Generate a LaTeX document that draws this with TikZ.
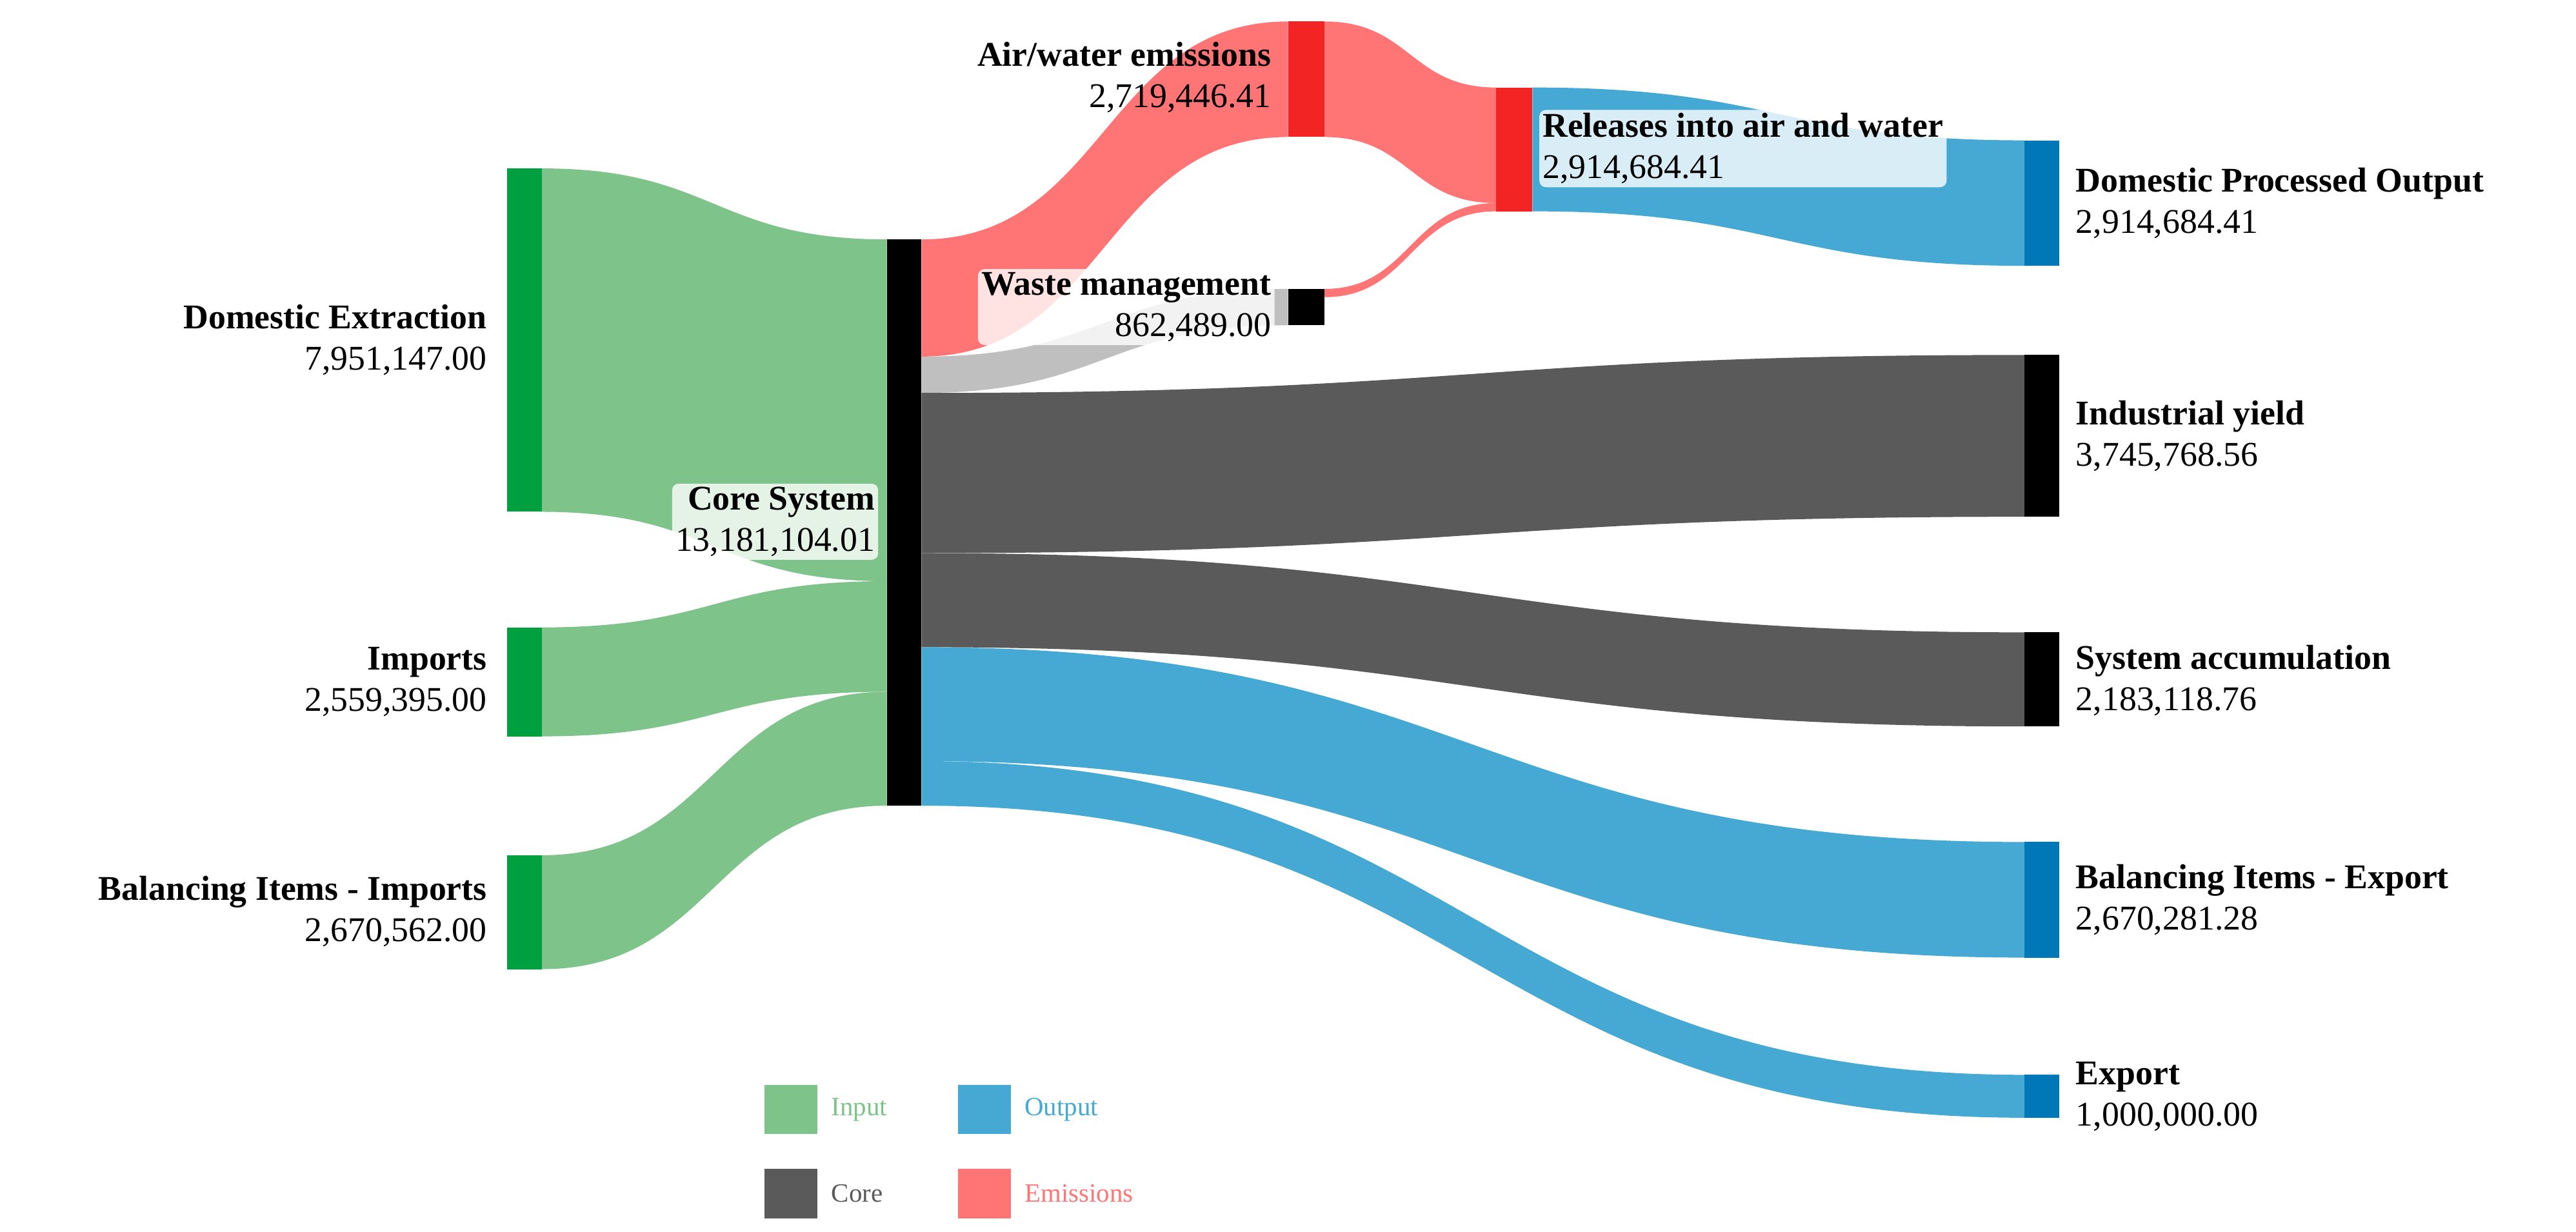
\documentclass[tikz,border=0pt]{standalone}
\usepackage{fontspec}
\setmainfont{Liberation Serif}
\begin{document}
\newcommand\sband[7]{%
 \pgfmathsetmacro\xm{(#2+#5)/2}%
 \fill[#1] (#2,#3) .. controls (\xm,#3) and (\xm,#6) .. (#5,#6) -- (#5,#7) .. controls (\xm,#7) and (\xm,#4) .. (#2,#4) -- cycle;}
\begin{tikzpicture}[x=1pt,y=-1pt,
 lab/.style={font=\fontsize{21}{25}\selectfont, align=right, inner sep=2pt},
 labl/.style={font=\fontsize{21}{25}\selectfont, align=left, inner sep=2pt},
 box/.style={fill=white, fill opacity=0.8, text opacity=1, rounded corners=4pt},
 leg/.style={font=\fontsize{16}{19}\selectfont, anchor=west}]
\definecolor{lin}{HTML}{7DC38A}\definecolor{bin}{HTML}{00A040}
\definecolor{lout}{HTML}{45A9D3}\definecolor{bout}{HTML}{0077B6}
\definecolor{lcore}{HTML}{5A5A5A}\definecolor{lem}{HTML}{FF7474}\definecolor{bem}{HTML}{F22424}
\useasboundingbox (0,0) rectangle (1560,746);
% links
\sband{lin}{328}{102}{310}{537}{145}{352}
\sband{lin}{328}{380}{446}{537}{352}{419}
\sband{lin}{328}{518}{587}{537}{419}{488}
\sband{lem}{558}{145}{216}{780}{13}{83}
\sband{black!25}{558}{216}{238}{780}{175}{197}
\sband{lcore}{558}{238}{335}{1226}{215}{313}
\sband{lcore}{558}{335}{392}{1226}{383}{440}
\sband{lout}{558}{392}{461}{1226}{510}{580}
\sband{lout}{558}{461}{488}{1226}{651}{677}
\sband{lem}{802}{13}{83}{906}{53}{123}
\sband{lem}{802}{175}{180}{906}{123}{128}
\sband{lout}{928}{53}{128}{1226}{85}{161}
% bars
\fill[bin] (307,102) rectangle (328,310);
\fill[bin] (307,380) rectangle (328,446);
\fill[bin] (307,518) rectangle (328,587);
\fill[black] (537,145) rectangle (558,488);
\fill[bem] (780,13) rectangle (802,83);
\fill[black] (780,175) rectangle (802,197);
\fill[bem] (906,53) rectangle (928,128);
\fill[bout] (1226,85) rectangle (1247,161);
\fill[black] (1226,215) rectangle (1247,313);
\fill[black] (1226,383) rectangle (1247,440);
\fill[bout] (1226,510) rectangle (1247,580);
\fill[bout] (1226,651) rectangle (1247,677);
% labels
\node[lab,anchor=east] (de) at (297,206) {\textbf{Domestic Extraction}\\7,951,147.00};
\node[lab,anchor=east] (im) at (297,413) {\textbf{Imports}\\2,559,395.00};
\node[lab,anchor=east] (bi) at (297,552) {\textbf{Balancing Items - Imports}\\2,670,562.00};
\node[lab,box,anchor=east] (cs) at (532,316) {\textbf{Core System}\\13,181,104.01};
\node[lab,anchor=east] (aw) at (772,47) {\textbf{Air/water emissions}\\2,719,446.41};
\node[lab,box,anchor=east] (wm) at (772,186) {\textbf{Waste management}\\862,489.00};
\node[labl,box,anchor=west] (rel) at (932,90) {\textbf{Releases into air and water}\\2,914,684.41};
\node[labl,anchor=west] (dpo) at (1255,123) {\textbf{Domestic Processed Output}\\2,914,684.41};
\node[labl,anchor=west] (iy) at (1255,264) {\textbf{Industrial yield}\\3,745,768.56};
\node[labl,anchor=west] (sa) at (1255,412) {\textbf{System accumulation}\\2,183,118.76};
\node[labl,anchor=west] (be) at (1255,545) {\textbf{Balancing Items - Export}\\2,670,281.28};
\node[labl,anchor=west] (ex) at (1255,664) {\textbf{Export}\\1,000,000.00};
% legend
\fill[lin] (463,657) rectangle (495,687); \node[leg,text=lin] (l1) at (500,672) {Input};
\fill[lout] (580,657) rectangle (612,687); \node[leg,text=lout] (l2) at (617,672) {Output};
\fill[lcore] (463,708) rectangle (495,738); \node[leg,text=lcore] (l3) at (500,723) {Core};
\fill[lem] (580,708) rectangle (612,738); \node[leg,text=lem] (l4) at (617,723) {Emissions};
\end{tikzpicture}
\end{document}
